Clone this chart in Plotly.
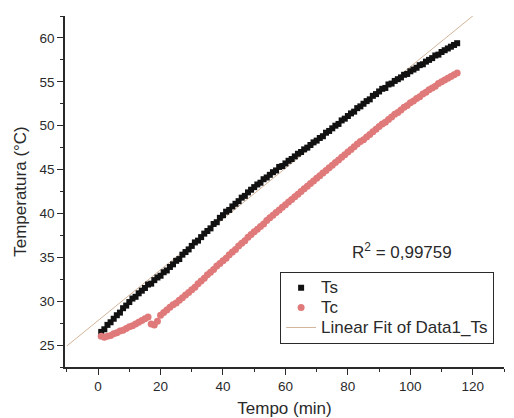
import plotly.graph_objects as go

# Time (min)
tempo = list(range(1, 116))

ts = [26.5, 26.8, 27.3, 27.6, 28.0, 28.4, 28.7, 29.2, 29.5, 29.9,
      30.3, 30.5, 30.9, 31.2, 31.5, 31.9, 32.0, 32.4, 32.7, 32.9,
      33.3, 33.5, 33.9, 34.2, 34.6, 34.8, 35.3, 35.6, 35.9, 36.3,
      36.7, 36.9, 37.3, 37.7, 38.0, 38.3, 38.8, 39.0, 39.5, 39.8,
      40.2, 40.4, 40.8, 41.1, 41.4, 41.8, 42.0, 42.4, 42.7, 43.0,
      43.3, 43.5, 43.9, 44.1, 44.4, 44.7, 44.9, 45.3, 45.4, 45.7,
      46.0, 46.2, 46.5, 46.8, 47.0, 47.3, 47.5, 47.8, 48.1, 48.3,
      48.6, 48.8, 49.2, 49.4, 49.7, 50.0, 50.2, 50.6, 50.8, 51.1,
      51.4, 51.6, 52.0, 52.2, 52.5, 52.8, 53.0, 53.4, 53.6, 53.9,
      54.2, 54.3, 54.7, 54.8, 55.1, 55.3, 55.5, 55.8, 55.9, 56.2,
      56.4, 56.6, 56.9, 57.0, 57.3, 57.5, 57.7, 58.0, 58.1, 58.4,
      58.6, 58.8, 59.0, 59.2, 59.4]

tc = [26.0, 25.9, 26.0, 26.1, 26.3, 26.4, 26.6, 26.7, 26.9, 27.1,
      27.2, 27.4, 27.6, 27.8, 28.0, 28.2, 27.4, 27.3, 27.7, 28.4,
      28.7, 29.0, 29.3, 29.6, 29.8, 30.1, 30.4, 30.7, 31.0, 31.3,
      31.6, 32.0, 32.3, 32.6, 33.0, 33.3, 33.6, 34.0, 34.3, 34.6,
      34.9, 35.3, 35.6, 35.9, 36.3, 36.6, 36.9, 37.3, 37.6, 37.9,
      38.2, 38.5, 38.8, 39.2, 39.5, 39.8, 40.1, 40.4, 40.7, 41.0,
      41.3, 41.6, 41.9, 42.2, 42.5, 42.8, 43.1, 43.4, 43.7, 44.0,
      44.3, 44.6, 44.9, 45.2, 45.5, 45.8, 46.1, 46.4, 46.7, 47.0,
      47.3, 47.6, 47.9, 48.2, 48.4, 48.7, 49.0, 49.3, 49.6, 49.9,
      50.2, 50.4, 50.7, 51.0, 51.3, 51.5, 51.8, 52.1, 52.3, 52.6,
      52.8, 53.1, 53.3, 53.6, 53.8, 54.1, 54.3, 54.5, 54.8, 55.0,
      55.2, 55.4, 55.6, 55.8, 56.0]

# Linear fit of Ts (end points of the drawn fit line)
fit_x = [-10, 130]
fit_y = [24.9, 65.4]

x_ticks = [0, 20, 40, 60, 80, 100, 120]
y_ticks = [25, 30, 35, 40, 45, 50, 55, 60]

r2_text = "R<sup>2</sup> = 0,99759"

FONT = "Liberation Sans, Arial, sans-serif"
INK = "#2a2a2a"


def big(label):
    return "<span style='font-size:17px'>" + label + "</span>"


fig = go.Figure()
fig.add_trace(go.Scatter(
    x=fit_x, y=fit_y, mode="lines", name=big("Linear Fit of Data1_Ts"),
    line=dict(color="#D2B49A", width=1), legendrank=3,
))
fig.add_trace(go.Scatter(
    x=tempo, y=ts, mode="markers", name=big("Ts"), legendrank=1,
    marker=dict(symbol="square", size=6, color="#111111", line=dict(width=0)),
))
fig.add_trace(go.Scatter(
    x=tempo, y=tc, mode="markers", name=big("Tc"), legendrank=2,
    marker=dict(symbol="circle", size=7, color="#E07A7A", line=dict(width=0)),
))

fig.add_annotation(x=97.3, y=35.7, text=r2_text, showarrow=False,
                   font=dict(family=FONT, size=17, color=INK))

axis_common = dict(
    showgrid=False, zeroline=False, showline=True, linecolor=INK, linewidth=1.5,
    ticks="outside", ticklen=6, tickwidth=1.2, tickcolor=INK,
    tickfont=dict(family=FONT, size=13.5, color=INK),
    mirror=False, automargin=False,
)

fig.update_xaxes(range=[-10.6, 130], tickvals=x_ticks,
                 minor=dict(dtick=10, tick0=0, ticks="outside", ticklen=3, tickcolor=INK),
                 title=dict(text="Tempo (min)", font=dict(family=FONT, size=17, color=INK), standoff=14),
                 **axis_common)
fig.update_yaxes(range=[22.5, 62.5], tickvals=y_ticks,
                 minor=dict(dtick=2.5, tick0=0, ticks="outside", ticklen=3, tickcolor=INK),
                 title=dict(text="Temperatura (°C)", font=dict(family=FONT, size=17, color=INK), standoff=9),
                 **axis_common)

fig.update_layout(
    width=514, height=418,
    margin=dict(l=65, r=10, t=16, b=51, autoexpand=False),
    paper_bgcolor="white", plot_bgcolor="white",
    font=dict(family=FONT, color=INK),
    legend=dict(x=0.49, y=0.2715, xanchor="left", yanchor="top",
                bordercolor=INK, borderwidth=1, bgcolor="white",
                font=dict(family=FONT, size=13, color=INK),
                tracegroupgap=0, itemwidth=30),
    showlegend=True,
)

fig.write_html("out.html", config={"displayModeBar": False},
               post_script="document.body.style.margin='0';")
